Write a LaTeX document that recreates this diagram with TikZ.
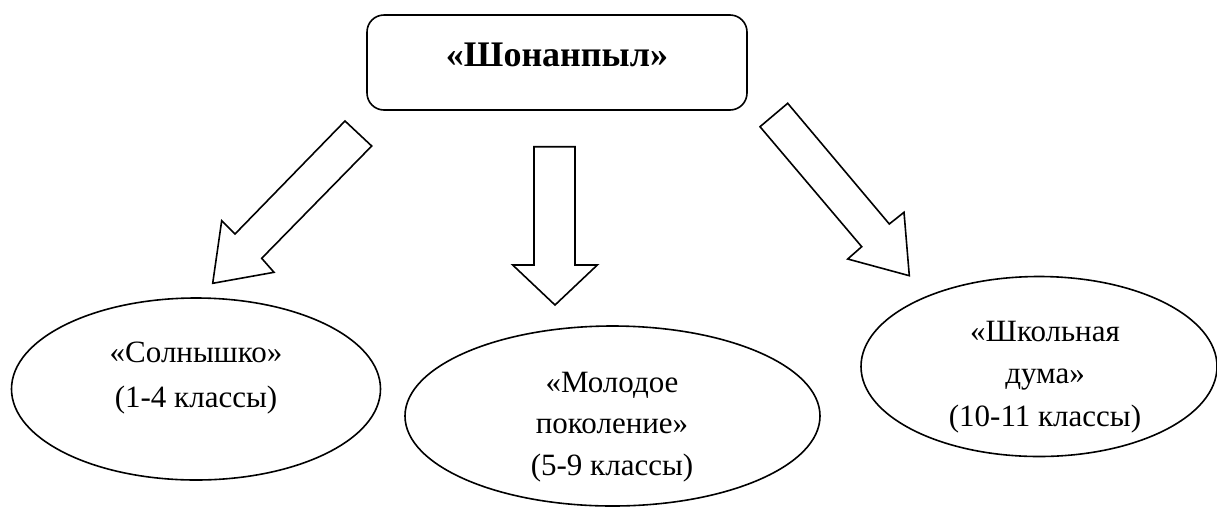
\documentclass[tikz,border=0pt]{standalone}
\usepackage{fontspec}
\setmainfont{Liberation Serif}
\usetikzlibrary{shapes.geometric}
\begin{document}
\begin{tikzpicture}[x=1pt,y=-1pt,
  line width=1.6pt,
  titlebox/.style={draw, rounded corners=17pt, inner sep=0pt,
    minimum width=380pt, text height=51pt, text depth=44pt,
    font=\fontsize{36}{40}\selectfont\bfseries},
  oval/.style={draw, ellipse, inner sep=0pt},
  lbl/.style={align=center, inner sep=0pt, font=\fontsize{31}{43}\selectfont},
  blockarrow/.style={draw, line join=miter, fill=white}
]
\useasboundingbox (0,0) rectangle (1217,507);

\node[titlebox] (top) at (557,62.5) {«Шонанпыл»\hspace{10pt}};

% block arrows
\draw[blockarrow] (345,121) -- (371.7,146) -- (261.7,258.3) -- (274,272.3)
  -- (212.7,283.3) -- (221.7,220.7) -- (235,234) -- cycle;
\draw[blockarrow] (534,146.7) -- (575,146.7) -- (575,265) -- (597.3,265)
  -- (555,305) -- (512.7,265) -- (534,265) -- cycle;
\draw[blockarrow] (787.7,103.3) -- (760,126.7) -- (861.7,246.7) -- (847.7,259)
  -- (909.3,275.7) -- (904,212.3) -- (889.3,224) -- cycle;

% ellipses
\node[oval, minimum width=369pt, minimum height=182pt] (e1) at (196,389) {};
\node[oval, minimum width=415pt, minimum height=180pt] (e2) at (612.5,416) {};
\node[oval, minimum width=356pt, minimum height=180pt] (e3) at (1039,366.5) {};

\node[lbl, font=\fontsize{31}{45}\selectfont] (t1) at (196,378) {«Солнышко»\\(1-4 классы)};
\node[lbl, font=\fontsize{31}{41.5}\selectfont] (t2) at (612,427) {«Молодое\\поколение»\\(5-9 классы)};
\node[lbl, font=\fontsize{31}{42.5}\selectfont] (t3) at (1045,377) {«Школьная\\дума»\\(10-11 классы)};
\end{tikzpicture}
\end{document}
